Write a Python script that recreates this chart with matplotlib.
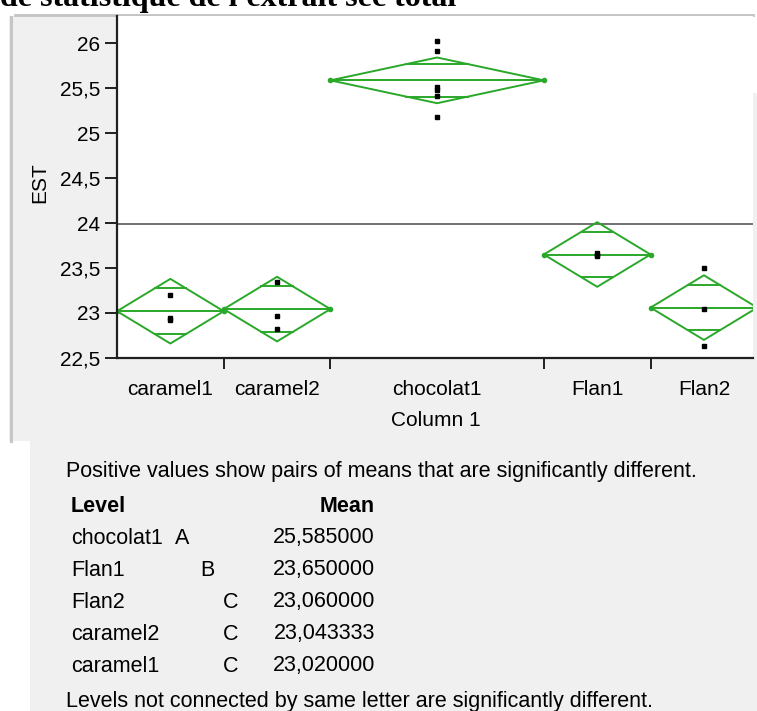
import numpy as np
import matplotlib
matplotlib.use('Agg')
import matplotlib.pyplot as plt
from matplotlib.patches import Rectangle
from matplotlib.lines import Line2D

# EST measurements per level (Column 1)
levels = ['caramel1', 'caramel2', 'chocolat1', 'Flan1', 'Flan2']
est_caramel1 = [23.20, 22.92, 22.94]
est_caramel2 = [23.34, 22.97, 22.82]
est_chocolat1 = [26.02, 25.91, 25.51, 25.48, 25.41, 25.18]
est_flan1 = [23.67, 23.65, 23.63]
est_flan2 = [23.50, 23.05, 22.63]

# connecting letters report (ordered by mean)
report_levels = ['chocolat1', 'Flan1', 'Flan2', 'caramel2', 'caramel1']
report_letters = ['A', 'B', 'C', 'C', 'C']

y_ticks = [22.5, 23, 23.5, 24, 24.5, 25, 25.5, 26]
T_CRIT = 2.1604  # t(0.975, df=13)

groups = [est_caramel1, est_caramel2, est_chocolat1, est_flan1, est_flan2]
W, H = 757, 711
GREEN = '#2aa82a'
PANEL = '#f0f0f0'

plt.rcParams['font.family'] = ['Liberation Sans', 'DejaVu Sans']
fig = plt.figure(figsize=(W / 100, H / 100), dpi=100)
fig.patch.set_facecolor('white')


def fx(x):
    return x / W


def fy(y):
    return 1 - y / H


def panel_rect(x0, y0, x1, y1, color):
    fig.add_artist(Rectangle((fx(x0), fy(y1)), fx(x1) - fx(x0), fy(y0) - fy(y1),
                             transform=fig.transFigure, facecolor=color,
                             edgecolor='none', zorder=-5))


# report window background and borders
panel_rect(9, 16, 753, 441, PANEL)
panel_rect(30, 441, 757, 711, PANEL)
panel_rect(753, 93, 757, 711, PANEL)
fig.add_artist(Line2D([fx(10.5), fx(10.5)], [fy(17), fy(441)], transform=fig.transFigure,
                      color='#c6c6c6', lw=2.2, zorder=-4))
fig.add_artist(Line2D([fx(15), fx(753)], [fy(14.5), fy(14.5)], transform=fig.transFigure,
                      color='#c3c3c3', lw=2.0, zorder=-4))

fig.text(fx(0), fy(6), "de statistique de l'extrait sec total", family='Liberation Serif',
         weight='bold', fontsize=23, ha='left', va='baseline')

# one-way plot with means diamonds
ax = fig.add_axes([fx(117), fy(358), fx(753) - fx(117), fy(16) - fy(358)])
ax.set_facecolor('white')

n = np.array([len(g) for g in groups])
means = np.array([np.mean(g) for g in groups])
edges = np.concatenate([[0], np.cumsum(n)])
centers = (edges[:-1] + edges[1:]) / 2
resid_ss = sum(((np.array(g) - np.mean(g)) ** 2).sum() for g in groups)
mse = resid_ss / (n.sum() - len(groups))
half = T_CRIT * np.sqrt(mse / n)
grand_mean = np.concatenate(groups).mean()

ax.axhline(grand_mean, color='#707070', lw=1.4, zorder=1)

for a, b, c, m, h, g in zip(edges[:-1], edges[1:], centers, means, half, groups):
    ax.plot([a, c, b, c, a], [m, m + h, m, m - h, m], color=GREEN, lw=1.4, zorder=2)
    ax.plot([a, b], [m, m], color=GREEN, lw=1.4, zorder=2)
    ax.plot([a, b], [m, m], 'o', color=GREEN, ms=3, zorder=2)
    d = h / np.sqrt(2)
    hw = (b - a) / 2 * (1 - 1 / np.sqrt(2))
    for yy in (m + d, m - d):
        ax.plot([c - hw, c + hw], [yy, yy], color=GREEN, lw=1.4, zorder=2)
    ax.plot([c] * len(g), g, 's', color='black', ms=2.6, zorder=3)

ax.set_xlim(0, 17.88)
ax.set_ylim(22.5, 26.3)
for side in ('top', 'right'):
    ax.spines[side].set_visible(False)
for side in ('left', 'bottom'):
    ax.spines[side].set_linewidth(1.6)
    ax.spines[side].set_color('#202020')

ax.set_yticks(y_ticks)
ax.set_yticklabels([f'{v:g}'.replace('.', ',') for v in y_ticks])
ax.tick_params(axis='y', length=9, width=1.4, pad=3, labelsize=15, color='#202020')

ax.set_xticks(edges[1:-1])
ax.set_xticklabels([])
ax.set_xticks(centers, minor=True)
ax.set_xticklabels(levels, minor=True)
ax.tick_params(axis='x', which='major', length=8, width=1.4, color='#202020')
ax.tick_params(axis='x', which='minor', length=0, pad=16, labelsize=15)

fig.text(fx(40), fy(183), 'EST', rotation=90, fontsize=15, ha='center', va='center')
fig.text(fx(436), fy(421), 'Column 1', fontsize=15, ha='center', va='center')

# connecting letters report
fs = 15.5
fig.text(fx(66), fy(472), 'Positive values show pairs of means that are significantly different.',
         fontsize=fs, ha='left', va='center')
fig.text(fx(71), fy(506), 'Level', fontsize=fs, weight='bold', ha='left', va='center')
fig.text(fx(375), fy(506), 'Mean', fontsize=fs, weight='bold', ha='right', va='center')
letter_x = {'A': 182, 'B': 207, 'C': 231}
for i, (lev, let) in enumerate(zip(report_levels, report_letters)):
    y = 538 + i * 32
    m = means[levels.index(lev)]
    fig.text(fx(71), fy(y), lev, fontsize=fs, ha='left', va='center')
    fig.text(fx(letter_x[let]), fy(y), let, fontsize=fs, ha='center', va='center')
    fig.text(fx(375), fy(y), f'{m:.6f}'.replace('.', ','), fontsize=fs, ha='right', va='center')
fig.text(fx(66), fy(702), 'Levels not connected by same letter are significantly different.',
         fontsize=fs, ha='left', va='center')

fig.savefig('out.png', dpi=100)
